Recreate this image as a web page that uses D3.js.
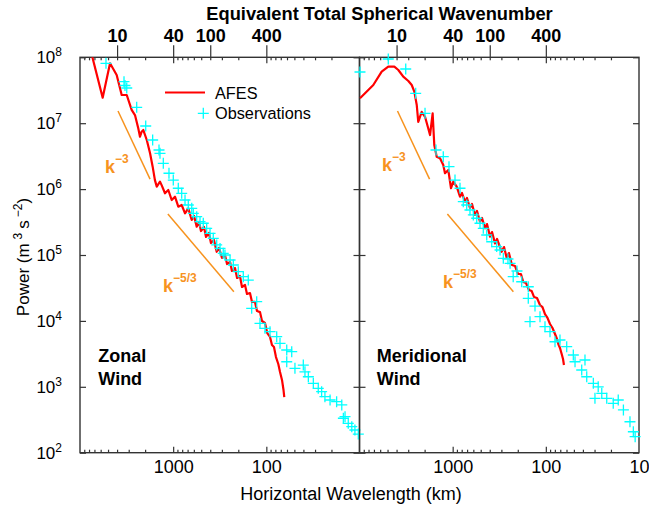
<!DOCTYPE html>
<meta charset="utf-8">
<head>
    <style>
        body { margin: 0; background: #fff; }
        text { font-family: "Liberation Sans", Arial, Helvetica, sans-serif; }
    </style>
    <script src="https://d3js.org/d3.v7.min.js"></script>
</head>
<div id="my_dataviz"></div>

<script>

// ---- data: wavelength (km) and power (m^3 s^-2) ----
var afesZonalWl = [8200,5710,4760,4040,3720,3570,3150,2790,2570,2370,2270,2180,2090,1920,1770,1660,1570,1500,1385,1330,
    1224,1128,1037,956,881,810,746,688,632,597,559,528,503,467,444,413,393,365,341,322,299,278,264,245,234,217,206,192,
    182.5,169.4,161.3,149.8,142.5,132.3,126,117,111.3,103.4,97.7,91.3,87,82.8,78.8,74.4,71.3,67.9,65.4,64.2];
var afesZonalPow = [1.83e8,2.44e7,8.11e7,5.39e7,3.38e7,2.68e7,2.68e7,1.59e7,1.33e7,8.37e6,6.24e6,7.43e6,7.88e6,5.56e6,
    3.49e6,2.19e6,1.37e6,1.09e6,1.30e6,1.15e6,8.64e5,9.69e5,6.83e5,7.67e5,5.41e5,5.74e5,4.29e5,5.11e5,3.40e5,3.91e5,
    2.69e5,3.17e5,2.31e5,2.66e5,1.88e5,2.16e5,1.52e5,1.69e5,1.12e5,1.28e5,9.01e4,1.0e5,7.30e4,7.83e4,5.72e4,6.35e4,
    4.48e4,4.80e4,3.27e4,3.51e4,2.56e4,2.65e4,1.94e4,1.94e4,1.41e4,1.36e4,9.97e3,9.29e3,6.55e3,5.70e3,4.31e3,4.02e3,
    2.83e3,2.22e3,1.68e3,1.27e3,894,700];

var obsZonalWl = [5260,3370,3290,3150,2463,1971,1660,1419,1385,1276,1109,997,881,810,746,688,632,608,559,515,475,437,
    402,371,341,314,290,278,245,226,200,176.7,156.2,143.6,126.9,117,103.4,91.3,77.4,71.3,60.4,53.4,60.4,49.3,40.1,38.5,
    35.4,31.3,27.7,25.5,23.5,20.7,17.6,15.5,14.9,14.3,13.2,12.1,11.2,10.3];
var obsZonalPow = [8.11e7,4.26e7,3.73e7,3.42e7,1.74e7,9.07e6,5.56e6,3.92e6,3.49e6,2.46e6,1.74e6,1.37e6,1.03e6,8.64e5,
    6.83e5,5.74e5,5.11e5,4.29e5,3.81e5,3.20e5,3.03e5,2.54e5,2.13e5,1.79e5,1.42e5,1.26e5,1.06e5,1.0e5,8.40e4,7.05e4,
    5.58e4,4.69e4,4.17e4,1.55e4,1.96e4,9.20e3,7.72e3,6.86e3,5.76e3,4.57e3,3.62e3,3.41e3,2.40e3,1.91e3,2.14e3,1.69e3,
    1.42e3,1.13e3,949,842,708,631,594,530,333,352,279,248,221,192];

var afesMeridWl = [9880,7110,5780,4910,4230,3830,3390,2990,2750,2580,2430,2340,2150,1980,1830,1750,1640,1575,1484,1368,
    1261,1209,1114,1042,984,905,834,794,737,702,652,620,576,548,509,484,450,428,397,378,351,334,298,281,263,249,231,214,
    199,185,174.6,163.3,151.6,141.8,134,124.4,115.5,108.6,102.1,96,90.2,84.8,79.7,75.9,73.5,70.5,67.6,65.4,63.9];
var afesMeridPow = [2.39e7,3.80e7,6.05e7,7.20e7,7.20e7,6.42e7,5.08e7,4.37e7,3.80e7,3.01e7,1.89e7,1.05e7,1.49e7,1.25e7,
    8.37e6,6.62e6,1.41e7,4.67e6,3.10e6,2.93e6,2.32e6,1.74e6,1.95e6,1.03e6,1.30e6,1.09e6,7.67e5,8.72e5,6.44e5,7.33e5,
    5.17e5,5.94e5,4.05e5,4.65e5,3.20e5,3.64e5,2.54e5,2.95e5,1.90e5,2.23e5,1.50e5,1.75e5,1.12e5,1.32e5,9.01e4,1.07e5,
    7.05e4,6.81e4,5.15e4,5.15e4,3.89e4,3.76e4,2.94e4,2.84e4,2.31e4,2.23e4,1.74e4,1.62e4,1.27e4,1.11e4,8.97e3,7.80e3,
    6.33e3,5.31e3,4.46e3,3.88e3,3.15e3,2.64e3,2.14e3];

var obsMeridWl = [9880,4910,3190,2494,1980,1510,1261,1095,944,834,769,707,652,600,552,509,469,431,381,337,310,286,255,
    242,224,204,181.6,154.3,154.3,147.9,130.7,115.5,102.1,90.2,79.7,70.5,59.7,50.7,48.6,38.0,41.2,36.4,30.9,27.4,29.7,
    25.1,22.2,18.9,16.7,14.7,12.5,11.5,11.0];
var obsMeridPow = [5.98e7,9.42e7,6.64e7,2.84e7,1.41e7,3.92e6,3.10e6,2.19e6,1.37e6,1.03e6,6.44e5,5.74e5,4.82e5,4.05e5,
    3.61e5,3.03e5,2.54e5,2.01e5,1.59e5,1.34e5,1.19e5,8.91e4,8.70e4,7.48e4,4.69e4,5.72e4,3.93e4,3.30e4,2.20e4,9.72e3,
    1.68e4,1.16e4,8.17e3,6.86e3,4.83e3,5.13e3,4.06e3,3.04e3,2.40e3,2.55e3,1.80e3,1.42e3,1.13e3,1.00e3,669,797,669,562,
    631,445,295,208,175];

// reference slopes k^-3 and k^-5/3 (end points)
var slope3Wl = [3910, 1770], slope3Pow = [1.53e7, 1.42e6];
var slope53Wl = [1140, 223], slope53Pow = [4.19e5, 2.77e4];

// ticks
var powTicks = [1e2, 1e3, 1e4, 1e5, 1e6, 1e7, 1e8];
var wlMajor = [1000, 100];
var wlMinor = [9000,8000,7000,6000,5000,4000,3000,2000,900,800,700,600,500,400,300,200,90,80,70,60,50,40,30,20];
var waveTicks = [10, 40, 100, 400];

// ---- layout ----
var margin = {top: 57.3, left: 80},
    panelW = 279.5,
    height = 395.4;

var x = d3.scaleLog().domain([10000, 10]).range([0, panelW]);
var xTop = d3.scaleLog().domain([4, 4000]).range([0, panelW]);   // n ~ 40000 / wavelength
var y = d3.scaleLog().domain([1e2, 1e8]).range([height, 0]);

var svg = d3.select("#my_dataviz")
  .append("svg")
    .attr("width", 649)
    .attr("height", 506);

var axisColor = "#333";
var orange = "#f7931e";

function styleAxis(sel) {
    sel.select(".domain").remove();
    sel.selectAll("line").attr("stroke", axisColor).attr("stroke-width", 1.2);
    sel.attr("font-family", "Liberation Sans, Arial, sans-serif").attr("font-size", 18);
    sel.selectAll("text").attr("fill", "#000");
}

function drawPanel(idx, afesWl, afesPow, obsWl, obsPow, name, lab3, lab53, bottomLabels) {
    var g = svg.append("g")
        .attr("transform", "translate(" + (margin.left + idx * panelW) + "," + margin.top + ")");

    g.append("clipPath").attr("id", "clip" + idx)
      .append("rect").attr("width", panelW).attr("height", height);

    // bottom axis (inward ticks)
    g.append("g").attr("transform", "translate(0," + height + ")")
        .call(d3.axisBottom(x).tickValues(bottomLabels).tickSize(-6).tickPadding(7.8)
            .tickFormat(d => d))
        .call(styleAxis)
        .selectAll("line").filter(d => d == 10).remove();
    g.append("g").attr("transform", "translate(0," + height + ")")
        .call(d3.axisBottom(x).tickValues(wlMinor).tickSize(-3).tickFormat(""))
        .call(styleAxis);

    // mirrored ticks on top
    g.append("g")
        .call(d3.axisTop(x).tickValues(wlMajor).tickSize(-6).tickFormat(""))
        .call(styleAxis);
    g.append("g")
        .call(d3.axisTop(x).tickValues(wlMinor).tickSize(-3).tickFormat(""))
        .call(styleAxis);

    // wavenumber axis (outward ticks)
    g.append("g")
        .call(d3.axisTop(xTop).tickValues(waveTicks).tickSize(12).tickPadding(3.6)
            .tickFormat(d => d))
        .call(styleAxis)
        .selectAll("text").attr("font-weight", "bold");

    // y ticks on both edges
    g.append("g")
        .call(d3.axisLeft(y).tickValues(powTicks).tickSize(-6).tickFormat(""))
        .call(styleAxis);
    g.append("g").attr("transform", "translate(" + panelW + ",0)")
        .call(d3.axisRight(y).tickValues(powTicks).tickSize(-6).tickFormat(""))
        .call(styleAxis);

    g.append("rect")
        .attr("width", panelW).attr("height", height)
        .attr("fill", "none").attr("stroke", axisColor).attr("stroke-width", 1.4);

    var line = d3.line()
        .x(function(d) { return x(d[0]); })
        .y(function(d) { return y(d[1]); });

    // reference slopes
    g.append("path").datum(d3.zip(slope3Wl, slope3Pow))
        .attr("fill", "none").attr("stroke", orange).attr("stroke-width", 1.5)
        .attr("d", line);
    g.append("path").datum(d3.zip(slope53Wl, slope53Pow))
        .attr("fill", "none").attr("stroke", orange).attr("stroke-width", 1.5)
        .attr("d", line);

    // AFES
    g.append("path").datum(d3.zip(afesWl, afesPow))
        .attr("clip-path", "url(#clip" + idx + ")")
        .attr("fill", "none").attr("stroke", "#ff0000").attr("stroke-width", 2.2)
        .attr("stroke-linejoin", "round")
        .attr("d", line);

    // observations
    g.append("g").selectAll("path")
        .data(d3.zip(obsWl, obsPow))
        .enter().append("path")
        .attr("transform", function(d) { return "translate(" + x(d[0]) + "," + y(d[1]) + ")"; })
        .attr("d", "M-5.5,0H5.5M0,-5.5V5.5")
        .attr("fill", "none").attr("stroke", "#00ffff").attr("stroke-width", 1.3);

    // slope labels
    var t3 = g.append("text").attr("x", lab3[0]).attr("y", lab3[1])
        .attr("fill", orange).attr("font-weight", "bold").attr("font-size", 18).text("k");
    t3.append("tspan").attr("dy", -10).attr("font-size", 12).text("\u22123");
    var t53 = g.append("text").attr("x", lab53[0]).attr("y", lab53[1])
        .attr("fill", orange).attr("font-weight", "bold").attr("font-size", 18).text("k");
    t53.append("tspan").attr("dy", -10).attr("font-size", 12).text("\u22125/3");

    // panel name
    var tn = g.append("text").attr("font-weight", "bold").attr("font-size", 18).attr("fill", "#000");
    tn.append("tspan").attr("x", 19 - 0.7 + (idx ? -1 : 0)).attr("y", 304.7).text(name);
    tn.append("tspan").attr("x", 19 - 0.7 + (idx ? -1 : 0)).attr("y", 327.7).text("Wind");
}

drawPanel(0, afesZonalWl, afesZonalPow, obsZonalWl, obsZonalPow, "Zonal", [25, 115.7], [83, 234.7], [1000, 100]);
drawPanel(1, afesMeridWl, afesMeridPow, obsMeridWl, obsMeridPow, "Meridional", [22.5, 113.7], [83.5, 230.7], [1000, 100, 10]);

// y tick labels
powTicks.forEach(function(p) {
    var t = svg.append("text")
        .attr("x", 62).attr("y", margin.top + y(p) + 6)
        .attr("text-anchor", "end").attr("font-size", 17).text("10");
    t.append("tspan").attr("dy", -7).attr("font-size", 12).text(Math.round(Math.log10(p)));
});

// titles
svg.append("text")
    .attr("x", 379.5).attr("y", 20)
    .attr("text-anchor", "middle").attr("font-size", 18.3).attr("font-weight", "bold")
    .text("Equivalent Total Spherical Wavenumber");

svg.append("text")
    .attr("x", 351).attr("y", 500)
    .attr("text-anchor", "middle").attr("font-size", 18)
    .text("Horizontal Wavelength (km)");

var yt = svg.append("text")
    .attr("transform", "translate(29,257) rotate(-90)")
    .attr("text-anchor", "middle").attr("font-size", 17)
    .text("Power (m");
yt.append("tspan").attr("dx", 4).attr("dy", -7).attr("font-size", 12).text("3");
yt.append("tspan").attr("dx", 4).attr("dy", 7).text("s");
yt.append("tspan").attr("dx", 3).attr("dy", -7).attr("font-size", 12).text("\u22122");
yt.append("tspan").attr("dy", 7).text(")");

// legend
svg.append("line")
    .attr("x1", 165).attr("x2", 205).attr("y1", 92.5).attr("y2", 92.5)
    .attr("stroke", "#ff0000").attr("stroke-width", 2);
svg.append("text").attr("x", 215).attr("y", 98.5).attr("font-size", 16.3).text("AFES");
svg.append("path")
    .attr("transform", "translate(203.3,113.3)")
    .attr("d", "M-5.5,0H5.5M0,-5.5V5.5")
    .attr("fill", "none").attr("stroke", "#00ffff").attr("stroke-width", 1.3);
svg.append("text").attr("x", 215).attr("y", 119).attr("font-size", 16.3).text("Observations");

</script>
